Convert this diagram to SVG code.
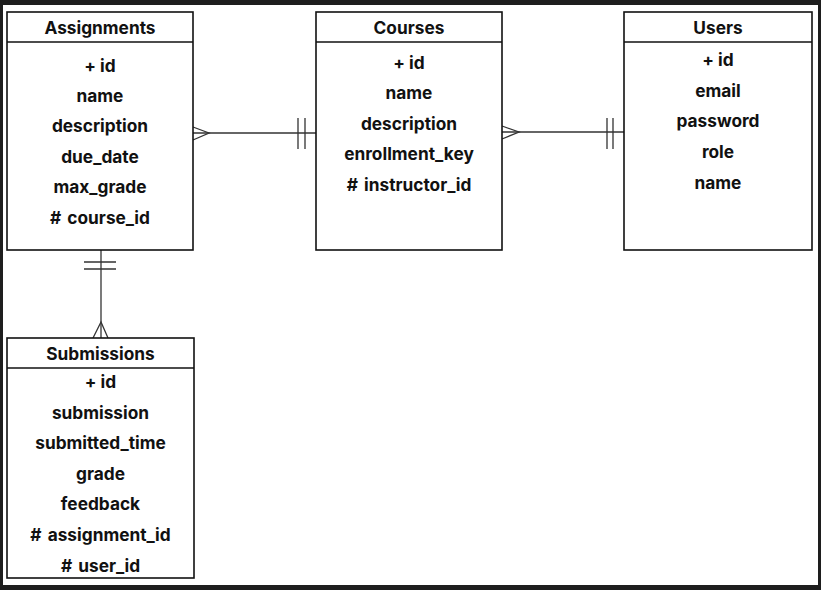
<svg xmlns="http://www.w3.org/2000/svg" width="821" height="590" viewBox="0 0 821 590">
<style>
.box{fill:#fff;stroke:#111;stroke-width:1.6}
.sep{stroke:#111;stroke-width:1.6}
.t{font-family:Inter,"Liberation Sans",sans-serif;font-weight:700;font-size:17.3px;fill:#111;text-anchor:middle;dominant-baseline:central}
.c{stroke:#333;stroke-width:1.3;fill:none}
</style>
<rect x="0" y="0" width="821" height="590" fill="#1e1e1e"/>
<rect x="3" y="5" width="815" height="580" fill="#fff"/>
<g id="connectors">
<path class="c" d="M193 133H316"/>
<path class="c" d="M193 127L209 133L193 140"/>
<path class="c" d="M298 118V149M305 118V149"/>
<path class="c" d="M502 132H624"/>
<path class="c" d="M502 126L519 132L502 139"/>
<path class="c" d="M607 118V149M613 118V149"/>
<path class="c" d="M101 250V338"/>
<path class="c" d="M84 262H116M84 269H116"/>
<path class="c" d="M93 338L101 322L108 338"/>
</g>
<g id="assignments">
<rect class="box" x="7" y="12" width="186" height="238"/>
<line class="sep" x1="7" y1="42" x2="193" y2="42"/>
<text class="t" x="100" y="27">Assignments</text>
<text class="t" x="100" y="65">+ id</text>
<text class="t" x="100" y="95">name</text>
<text class="t" x="100" y="125.5">description</text>
<text class="t" x="100" y="156">due_date</text>
<text class="t" x="100" y="186.5">max_grade</text>
<text class="t" x="100" y="217" word-spacing="2">#  course_id</text>
</g>
<g id="courses">
<rect class="box" x="316" y="12" width="186" height="238"/>
<line class="sep" x1="316" y1="42" x2="502" y2="42"/>
<text class="t" x="409" y="27">Courses</text>
<text class="t" x="409" y="62">+ id</text>
<text class="t" x="409" y="92.5">name</text>
<text class="t" x="409" y="123">description</text>
<text class="t" x="409" y="153.5">enrollment_key</text>
<text class="t" x="409" y="184" word-spacing="2">#  instructor_id</text>
</g>
<g id="users">
<rect class="box" x="624" y="12" width="188" height="238"/>
<line class="sep" x1="624" y1="42" x2="812" y2="42"/>
<text class="t" x="718" y="27">Users</text>
<text class="t" x="718" y="59">+ id</text>
<text class="t" x="718" y="90">email</text>
<text class="t" x="718" y="120.5">password</text>
<text class="t" x="718" y="151">role</text>
<text class="t" x="718" y="182">name</text>
</g>
<g id="submissions">
<rect class="box" x="7" y="338" width="187" height="240"/>
<line class="sep" x1="7" y1="368" x2="194" y2="368"/>
<text class="t" x="100.5" y="353">Submissions</text>
<text class="t" x="100.5" y="381">+ id</text>
<text class="t" x="100.5" y="412">submission</text>
<text class="t" x="100.5" y="442.5">submitted_time</text>
<text class="t" x="100.5" y="473">grade</text>
<text class="t" x="100.5" y="503.5">feedback</text>
<text class="t" x="100.5" y="534" word-spacing="2">#  assignment_id</text>
<text class="t" x="100.5" y="565" word-spacing="2">#  user_id</text>
</g>
</svg>
